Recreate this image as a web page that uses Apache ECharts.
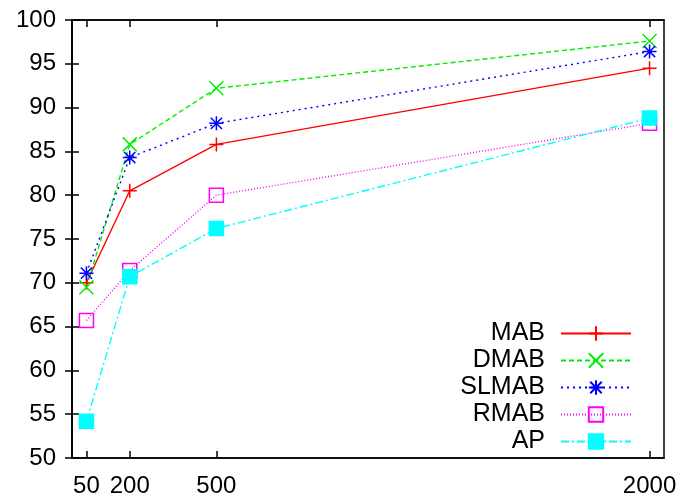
<!DOCTYPE html>
<html>
<head>
    <meta charset="UTF-8">
    <title>MAB chart</title>
    <script src="https://cdn.jsdelivr.net/npm/echarts/dist/echarts.min.js"></script>
    <style>
        body { margin: 0; background: #fff; }
        #chart { width: 685px; height: 502px; }
    </style>
</head>
<body>
    <div id="chart"></div>
    <script>
        // x positions (linear scale)
        const xValues = [50, 200, 500, 2000];
        const mab   = [70.0, 80.5, 85.8, 94.5];
        const dmab  = [69.5, 85.8, 92.2, 97.6];
        const slmab = [71.1, 84.3, 88.2, 96.4];
        const rmab  = [65.7, 71.4, 80.0, 88.2];
        const ap    = [54.2, 70.7, 76.2, 88.8];

        const pair = ys => xValues.map((x, i) => [x, ys[i]]);

        const FONT = '"Liberation Sans", Arial, sans-serif';

        function mkSeries(name, ys, color, dash, symbol, fill) {
            return {
                name: name,
                type: 'line',
                data: pair(ys),
                symbol: symbol,
                symbolSize: 14,
                showAllSymbol: true,
                lineStyle: { color: color, width: 1.4, type: dash },
                itemStyle: { color: fill, borderColor: color, borderWidth: 1.5 },
                emphasis: { disabled: true },
                animation: false
            };
        }

        const plus = 'path://M0,-10L0,10M-10,0L10,0';
        const cross = 'path://M-10,-10L10,10M-10,10L10,-10';
        const star = 'path://M0,-10L0,10M-10,0L10,0M-8,-8L8,8M-8,8L8,-8';
        const box = 'path://M-10,-10L10,-10L10,10L-10,10Z';

        const chart = echarts.init(document.getElementById('chart'));
        chart.setOption({
            animation: false,
            textStyle: { fontFamily: FONT },
            grid: {
                left: 72, right: 21, top: 20, bottom: 44,
                show: true, borderColor: '#000', borderWidth: 1.5,
                backgroundColor: 'transparent'
            },
            legend: {
                orient: 'vertical',
                right: 53,
                top: 321,
                padding: 0,
                align: 'right',
                itemWidth: 70,
                itemHeight: 18,
                itemGap: 2,
                textStyle: { fontSize: 25, color: '#000', fontFamily: FONT, padding: [0, 11, 0, 0], lineHeight: 24 },
                data: ['MAB', 'DMAB', 'SLMAB', 'RMAB', 'AP']
            },
            xAxis: [{
                type: 'value', min: 0, max: 2050,
                axisLine: { show: true, lineStyle: { color: '#000', width: 1.5 } },
                axisTick: { show: true, inside: true, length: 7, customValues: xValues, lineStyle: { color: '#000', width: 1.5 } },
                axisLabel: { show: true, customValues: xValues, formatter: v => String(v), fontSize: 24, color: '#000', margin: 16, fontFamily: FONT },
                splitLine: { show: false }
            }, {
                type: 'value', min: 0, max: 2050, position: 'top',
                axisLine: { show: true, lineStyle: { color: '#000', width: 1.5 } },
                axisTick: { show: true, inside: true, length: 7, customValues: xValues, lineStyle: { color: '#000', width: 1.5 } },
                axisLabel: { show: false },
                splitLine: { show: false }
            }],
            yAxis: [{
                type: 'value', min: 50, max: 100, interval: 5,
                axisLine: { show: true, lineStyle: { color: '#000', width: 1.5 } },
                axisTick: { show: true, inside: true, length: 7, lineStyle: { color: '#000', width: 1.5 } },
                axisLabel: { fontSize: 24, color: '#000', margin: 16, fontFamily: FONT },
                splitLine: { show: false }
            }, {
                type: 'value', min: 50, max: 100, interval: 5, position: 'right',
                axisLine: { show: true, lineStyle: { color: '#000', width: 1.5 } },
                axisTick: { show: true, inside: true, length: 7, lineStyle: { color: '#000', width: 1.5 } },
                axisLabel: { show: false },
                splitLine: { show: false }
            }],
            series: [
                mkSeries('MAB', mab, '#ff0000', 'solid', plus, 'none'),
                mkSeries('DMAB', dmab, '#00ee00', [5, 3], cross, 'none'),
                mkSeries('SLMAB', slmab, '#0000ff', [2, 4], star, 'none'),
                mkSeries('RMAB', rmab, '#ff00ff', [1, 2], box, 'none'),
                mkSeries('AP', ap, '#00ffff', [8, 3, 2, 3], 'rect', '#00ffff')
            ]
        });
    </script>
</body>
</html>
